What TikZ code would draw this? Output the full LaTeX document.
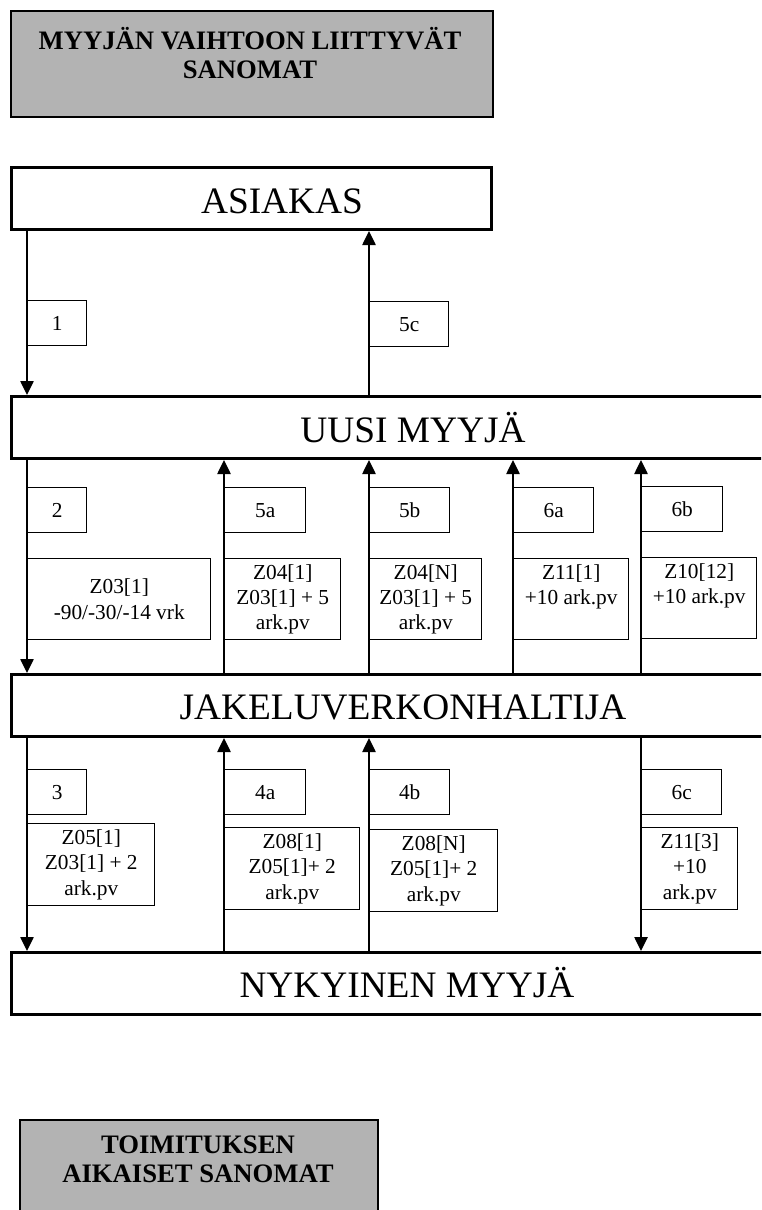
\documentclass[tikz,border=0pt]{standalone}
\usepackage{fontspec}
\setmainfont{Liberation Serif}
\usetikzlibrary{arrows.meta,fit}
\definecolor{hdrgray}{RGB}{179,179,179}
\begin{document}
\begin{tikzpicture}[x=0.75pt,y=-0.75pt,
  bigbox/.style={draw, fill=white, line width=2.25pt, inner sep=0pt},
  hdrbox/.style={draw, fill=hdrgray, line width=1.5pt, inner sep=0pt},
  sbox/.style={draw, fill=white, line width=1.1pt, inner sep=0pt, anchor=north west,
    font=\fontsize{16pt}{19pt}\selectfont, align=center},
  sz/.style n args={2}{minimum width=#1*0.75pt, minimum height=#2*0.75pt},
  bigtext/.style={font=\fontsize{28pt}{32pt}\selectfont, anchor=base, inner sep=0pt},
  hdrtext/.style={font=\fontsize{20pt}{21.75pt}\selectfont\bfseries, align=center,
    anchor=north, inner sep=0pt},
  conn/.style={line width=1.1pt},
  arr/.style={conn, -{Triangle[length=10.5pt,width=10pt]}}
]
\useasboundingbox (0,0) rectangle (761,1210);
\clip (0,0) rectangle (761,1210);

% column positions of the connectors
\coordinate (cA) at (27,0);
\coordinate (cB) at (224,0);
\coordinate (cC) at (369,0);
\coordinate (cD) at (513,0);
\coordinate (cE) at (641,0);

% header boxes
\node[hdrbox, fit={(11,11) (493,117)}] (hdr1) {};
\node[hdrtext] (hdr1t) at (250,27) {MYYJÄN VAIHTOON LIITTYVÄT\\SANOMAT};
\node[hdrbox, fit={(19.5,1119.5) (377.5,1240)}] (hdr2) {};
\node[hdrtext] (hdr2t) at (198,1136) {TOIMITUKSEN\\AIKAISET SANOMAT};

% main parties
\node[bigbox, fit={(11.5,167.5) (491.5,229.5)}] (asiakas) {};
\node[bigtext] (asiakast) at (282,213) {ASIAKAS};
\node[bigbox, fit={(11.5,396.5) (830,458.5)}] (uusi) {};
\node[bigtext] (uusit) at (413,442) {UUSI MYYJÄ};
\node[bigbox, fit={(11.5,674.5) (830,736.5)}] (jakelu) {};
\node[bigtext] (jakelut) at (403,719) {JAKELUVERKONHALTIJA};
\node[bigbox, fit={(11.5,952.5) (830,1014.5)}] (nyk) {};
\node[bigtext] (nykt) at (407,997) {NYKYINEN MYYJÄ};

% connectors
\draw[arr] (asiakas.south -| cA) -- (uusi.north -| cA);
\draw[arr] (uusi.north -| cC) -- (asiakas.south -| cC);
\draw[arr] (uusi.south -| cA) -- (jakelu.north -| cA);
\draw[arr] (jakelu.north -| cB) -- (uusi.south -| cB);
\draw[arr] (jakelu.north -| cC) -- (uusi.south -| cC);
\draw[arr] (jakelu.north -| cD) -- (uusi.south -| cD);
\draw[arr] (jakelu.north -| cE) -- (uusi.south -| cE);
\draw[arr] (jakelu.south -| cA) -- (nyk.north -| cA);
\draw[arr] (nyk.north -| cB) -- (jakelu.south -| cB);
\draw[arr] (nyk.north -| cC) -- (jakelu.south -| cC);
\draw[arr] (jakelu.south -| cE) -- (nyk.north -| cE);

% message labels
\node[sbox, sz={59}{45}] (l1) at (27,300) {1};
\node[sbox, sz={79}{45}] (l5c) at (369,301) {5c};

\node[sbox, sz={59}{45}] (l2) at (27,487) {2};
\node[sbox, sz={81}{45}] (l5a) at (224,487) {5a};
\node[sbox, sz={80}{45}] (l5b) at (369,487) {5b};
\node[sbox, sz={80}{45}] (l6a) at (513,487) {6a};
\node[sbox, sz={81}{45}] (l6b) at (641,486) {6b};

\node[sbox, sz={183}{81}] (z2) at (27,558) {Z03[1]\\-90/-30/-14 vrk};
\node[sbox, sz={116}{81}] (z5a) at (224,558) {Z04[1]\\Z03[1] + 5\\ark.pv};
\node[sbox, sz={112}{81}] (z5b) at (369,558) {Z04[N]\\Z03[1] + 5\\ark.pv};
\node[sbox, sz={115}{81}] (z6a) at (513,558) {Z11[1]\\+10 ark.pv\\\vphantom{p}};
\node[sbox, sz={115}{81}] (z6b) at (641,557) {Z10[12]\\+10 ark.pv\\\vphantom{p}};

\node[sbox, sz={59}{45}] (l3) at (27,769) {3};
\node[sbox, sz={81}{45}] (l4a) at (224,769) {4a};
\node[sbox, sz={80}{45}] (l4b) at (369,769) {4b};
\node[sbox, sz={80}{45}] (l6c) at (641,769) {6c};

\node[sbox, sz={127}{82}] (z3) at (27,823) {Z05[1]\\Z03[1] + 2\\ark.pv};
\node[sbox, sz={135}{82}] (z4a) at (224,827) {Z08[1]\\Z05[1]+ 2\\ark.pv};
\node[sbox, sz={128}{82}] (z4b) at (369,829) {Z08[N]\\Z05[1]+ 2\\ark.pv};
\node[sbox, sz={96}{82}] (z6c) at (641,827) {Z11[3]\\+10\\ark.pv};
\end{tikzpicture}
\end{document}
